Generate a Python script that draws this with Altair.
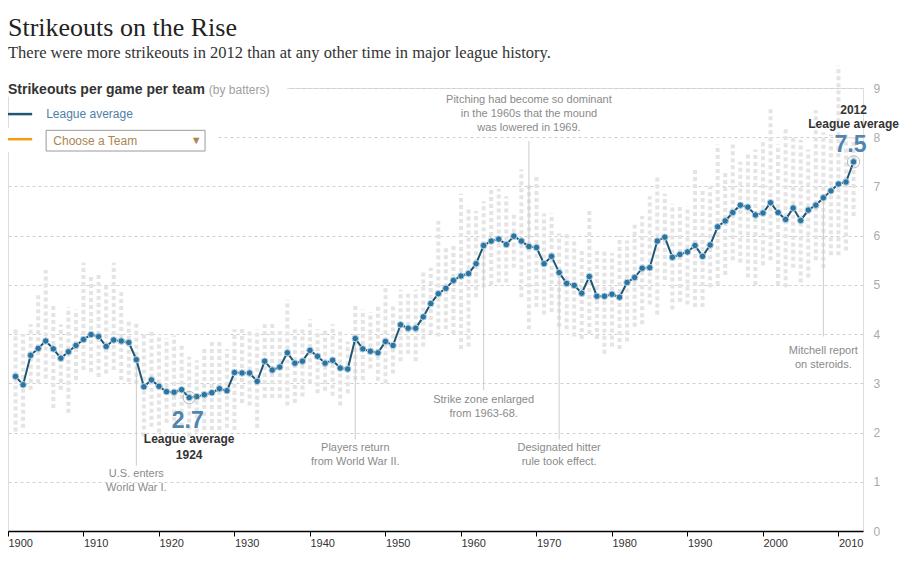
import altair as alt
import pandas as pd

# ---------------- data ----------------
years = list(range(1901, 2013))
league_avg = [
    3.14, 2.97, 3.57, 3.71, 3.86, 3.70, 3.51, 3.64, 3.77, 3.89,   # 1901-1910
    3.99, 3.95, 3.75, 3.88, 3.86, 3.83, 3.48, 2.93, 3.07, 2.94,   # 1911-1920
    2.83, 2.82, 2.87, 2.71, 2.73, 2.77, 2.81, 2.89, 2.85, 3.22,   # 1921-1930
    3.21, 3.21, 3.04, 3.45, 3.27, 3.33, 3.62, 3.41, 3.45, 3.67,   # 1931-1940
    3.55, 3.41, 3.47, 3.31, 3.29, 3.91, 3.70, 3.65, 3.62, 3.85,   # 1941-1950
    3.77, 4.19, 4.12, 4.12, 4.35, 4.62, 4.82, 4.93, 5.09, 5.18,   # 1951-1960
    5.23, 5.43, 5.80, 5.89, 5.93, 5.82, 5.99, 5.89, 5.78, 5.76,   # 1961-1970
    5.43, 5.58, 5.25, 5.03, 4.99, 4.83, 5.17, 4.77, 4.77, 4.81,   # 1971-1980
    4.75, 5.05, 5.15, 5.34, 5.35, 5.89, 5.97, 5.56, 5.62, 5.67,   # 1981-1990
    5.80, 5.58, 5.81, 6.18, 6.30, 6.47, 6.62, 6.58, 6.42, 6.46,   # 1991-2000
    6.67, 6.47, 6.33, 6.56, 6.31, 6.52, 6.62, 6.77, 6.91, 7.05,   # 2001-2010
    7.09, 7.50,                                                   # 2011-2012
]
team_low = [
    2.02, 2.10, 2.87, 3.00, 3.10, 2.50, 2.87, 2.40, 3.07, 3.27,
    3.23, 3.13, 3.20, 3.27, 3.07, 3.03, 2.99, 1.92, 2.12, 2.00,
    2.20, 2.10, 2.12, 1.92, 2.00, 2.05, 2.05, 2.05, 2.10, 2.05,
    2.60, 2.55, 2.10, 2.70, 2.70, 2.70, 2.55, 2.60, 2.73, 3.00,
    2.80, 2.85, 2.75, 2.55, 2.80, 3.07, 3.07, 3.30, 3.05, 3.00,
    3.20, 3.45, 3.60, 3.45, 3.75, 4.00, 3.95, 4.10, 4.00, 3.70,
    3.75, 4.75, 4.95, 5.00, 5.05, 5.05, 5.35, 4.75, 4.10, 4.55,
    4.40, 4.45, 4.15, 4.10, 3.95, 3.90, 4.00, 3.90, 3.60, 3.75,
    3.70, 3.85, 4.15, 4.20, 4.60, 4.40, 5.10, 4.50, 4.65, 4.60,
    4.55, 4.55, 4.95, 5.00, 5.20, 5.50, 5.45, 5.15, 5.00, 5.40,
    5.50, 5.00, 4.95, 5.35, 5.05, 5.15, 5.50, 5.35, 5.60, 5.60,
    5.70, 6.40,
]
team_high = [
    4.15, 4.00, 4.20, 4.80, 5.30, 4.60, 4.20, 4.55, 4.50, 5.45,
    5.20, 5.20, 5.00, 5.45, 4.85, 4.25, 4.25, 4.05, 4.05, 4.00,
    3.92, 3.97, 3.78, 3.54, 3.47, 3.70, 3.90, 3.85, 3.70, 4.10,
    4.15, 4.10, 4.10, 4.20, 4.25, 4.10, 4.70, 4.10, 4.10, 4.30,
    4.10, 4.10, 4.20, 4.10, 3.85, 4.60, 4.50, 4.45, 4.60, 5.00,
    4.60, 4.90, 4.85, 4.90, 5.25, 5.35, 6.30, 5.75, 5.85, 6.85,
    6.60, 6.50, 6.70, 6.95, 6.95, 6.80, 6.45, 7.35, 7.05, 7.20,
    6.45, 6.45, 6.05, 6.05, 5.95, 5.70, 6.50, 5.75, 5.70, 5.65,
    6.00, 5.90, 6.25, 6.40, 6.80, 7.20, 6.85, 6.65, 6.60, 6.60,
    7.35, 6.95, 7.00, 7.85, 7.30, 7.85, 7.50, 7.65, 7.75, 7.90,
    8.60, 7.85, 8.20, 8.05, 7.95, 7.75, 8.55, 8.10, 8.05, 9.45,
    8.10, 8.00,
]

# annotations
ann_years = [1917, 1946, 1963, 1969, 1973, 2008]
ann_texts = [
    "U.S. enters\nWorld War I.",
    "Players return\nfrom World War II.",
    "Strike zone enlarged\nfrom 1963-68.",
    "Pitching had become so dominant\nin the 1960s that the mound\nwas lowered in 1969.",
    "Designated hitter\nrule took effect.",
    "Mitchell report\non steroids.",
]
ann_text_top = [1.27, 1.80, 2.79, 8.88, 1.80, 3.77]
ann_rule_from = [3.48, 3.91, 5.80, 5.76, 5.25, 6.77]
ann_rule_to = [1.33, 1.86, 2.86, 7.92, 1.86, 3.95]

highlight_years = [1924, 2012]
highlight_vals = [2.71, 7.50]

# ---------------- frames ----------------
avg_df = pd.DataFrame({"year": years, "val": league_avg})
team_df = pd.DataFrame({"year": years, "val": team_low, "val2": team_high})
ann_rule_df = pd.DataFrame({"year": ann_years, "val": ann_rule_from, "val2": ann_rule_to})
ann_text_df = pd.DataFrame({"year": ann_years, "val": ann_text_top, "text": ann_texts})
hl_df = pd.DataFrame({"year": highlight_years, "val": highlight_vals})

FONT = "Liberation Sans"
xs = alt.Scale(domain=[1900, 2013.25], nice=False, zero=False)
ys = alt.Scale(domain=[0, 9], nice=False)

xaxis = alt.Axis(values=list(range(1900, 2011, 10)), format="d", labelAlign="left",
                 labelColor="#333", labelFontSize=11, labelFont=FONT, tickColor="#000",
                 tickSize=5, domainColor="#000", domainWidth=1.5, grid=False,
                 labelPadding=1, labelFlush=False, labelOverlap=False, title=None)
yaxis = alt.Axis(orient="right", values=list(range(0, 10)), labelColor="#aaa",
                 labelFontSize=12, labelFont=FONT, labelPadding=10, ticks=False,
                 domain=False, grid=True, gridColor="#cfcfcf", gridDash=[3, 3], title=None)

X = alt.X("year:Q", scale=xs, axis=xaxis)
Y = alt.Y("val:Q", scale=ys, axis=yaxis)

teams = alt.Chart(team_df).mark_rule(color="#e4e4e4", strokeWidth=4, strokeDash=[4, 3]).encode(
    x=X, y=Y, y2="val2:Q")

ann_rules = alt.Chart(ann_rule_df).mark_rule(color="#cccccc", strokeWidth=1).encode(
    x=X, y=Y, y2="val2:Q")

ann_text = alt.Chart(ann_text_df).mark_text(
    font=FONT, fontSize=11, color="#8a8a8a", align="center", baseline="top",
    lineBreak="\n", lineHeight=14).encode(x=X, y=Y, text="text:N")

line = alt.Chart(avg_df).mark_line(color="#1e5674", strokeWidth=2).encode(x=X, y=Y)
pts = alt.Chart(avg_df).mark_point(filled=True, shape="circle", size=42, color="#2b73a0",
                                   stroke="#b9d5e6", strokeWidth=1, opacity=1).encode(x=X, y=Y)
hl = alt.Chart(hl_df).mark_point(shape="circle", size=150, color="#9a9a9a", strokeWidth=1,
                                 filled=False).encode(x=X, y=Y)

# big value call-outs
big_df = pd.DataFrame({"year": [1923.8, 2011.6], "val": [2.24, 7.85], "text": ["2.7", "7.5"]})
big = alt.Chart(big_df).mark_text(font=FONT, fontSize=23, fontWeight="bold", color="#4f86b0",
                                  align="center", baseline="middle").encode(x=X, y=Y, text="text:N")
lab_df = pd.DataFrame({"year": [1924, 1924, 2012, 2012],
                       "val": [1.86, 1.55, 8.56, 8.27],
                       "text": ["League average", "1924", "2012", "League average"]})
labs = alt.Chart(lab_df).mark_text(font=FONT, fontSize=12, fontWeight="bold", color="#333",
                                   align="center", baseline="middle").encode(x=X, y=Y, text="text:N")

# header & legend
mask_df = pd.DataFrame({"year": [1900, 1900], "year2": [1937, 1927.5],
                        "val": [8.82, 7.70], "val2": [9.18, 8.18]})
mask = alt.Chart(mask_df).mark_rect(color="white").encode(x=X, x2="year2:Q", y=Y, y2="val2:Q")

head_df = pd.DataFrame({"year": [1900], "val": [8.96], "text": ["Strikeouts per game per team"]})
head = alt.Chart(head_df).mark_text(font=FONT, fontSize=14, fontWeight="bold", color="#333",
                                    align="left", baseline="middle").encode(x=X, y=Y, text="text:N")
head2_df = pd.DataFrame({"year": [1926.6], "val": [8.96], "text": ["(by batters)"]})
head2 = alt.Chart(head2_df).mark_text(font=FONT, fontSize=12, color="#a0a0a0",
                                      align="left", baseline="middle").encode(x=X, y=Y, text="text:N")

leg_line_df = pd.DataFrame({"year": [1900, 1900], "year2": [1903.2, 1903.2],
                            "val": [8.47, 7.96], "col": ["#1e5674", "#f39c12"]})
leg_lines = alt.Chart(leg_line_df).mark_rule(strokeWidth=2.5).encode(
    x=X, x2="year2:Q", y=Y, color=alt.Color("col:N", scale=None))
leg_txt_df = pd.DataFrame({"year": [1905.05], "val": [8.47], "text": ["League average"]})
leg_txt = alt.Chart(leg_txt_df).mark_text(font=FONT, fontSize=12, color="#4f7fa6",
                                          align="left", baseline="middle").encode(x=X, y=Y, text="text:N")

box_df = pd.DataFrame({"year": [1905.05], "year2": [1926.1], "val": [7.72], "val2": [8.14]})
box = alt.Chart(box_df).mark_rect(fill="white", stroke="#9a9a9a", strokeWidth=1).encode(
    x=X, x2="year2:Q", y=Y, y2="val2:Q")
box_txt_df = pd.DataFrame({"year": [1906.0, 1924.2], "val": [7.93, 7.93], "text": ["Choose a Team", "▼"],
                           "size": [12, 11]})
box_txt = alt.Chart(box_txt_df).mark_text(font=FONT, color="#a8884e", align="left",
                                          baseline="middle").encode(
    x=X, y=Y, text="text:N", size=alt.Size("size:Q", scale=None, legend=None))

chart = alt.layer(
    teams, mask, ann_rules, ann_text, line, pts, hl, big, labs,
    head, head2, leg_lines, leg_txt, box, box_txt
).properties(
    width=855, height=443,
    autosize=alt.AutoSizeParams(type="none"),
    padding={"left": 0, "top": 80, "right": 40, "bottom": 25},
    title=alt.TitleParams(
        "Strikeouts on the Rise",
        subtitle=["There were more strikeouts in 2012 than at any other time in major league history."],
        anchor="start", frame="group", font="Liberation Serif", fontSize=26, fontWeight="normal",
        color="#222", subtitleFont="Liberation Serif", subtitleFontSize=16.5, subtitleColor="#333",
        subtitlePadding=4.5, offset=2),
).configure_view(stroke=None).configure(background="white")

chart.save("out.html", embed_options={"renderer": "svg", "actions": False})
